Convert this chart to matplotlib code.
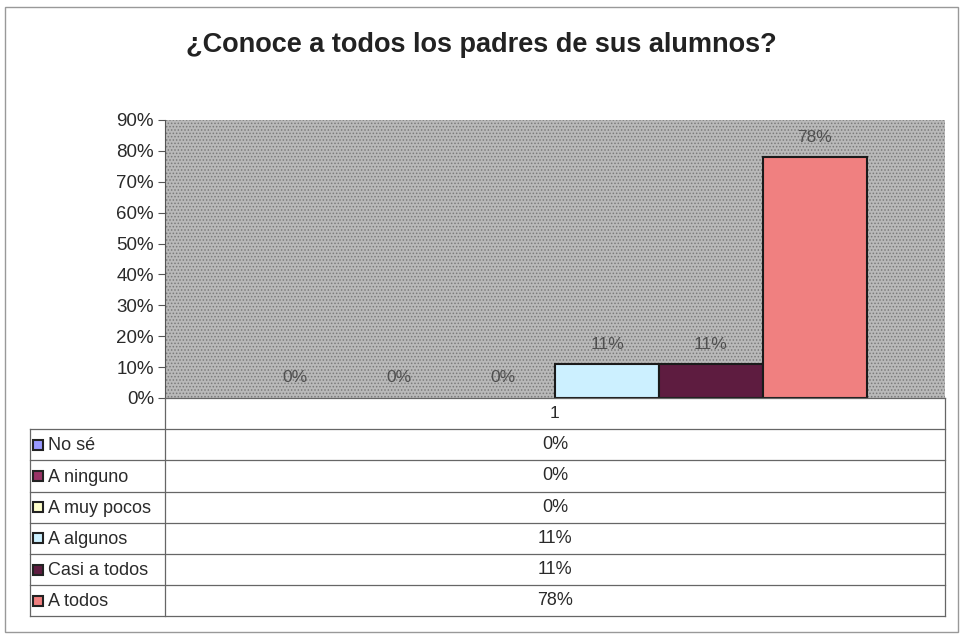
import matplotlib.pyplot as plt
from matplotlib.patches import Rectangle
from matplotlib.lines import Line2D

categories = ['No sé', 'A ninguno', 'A muy pocos', 'A algunos', 'Casi a todos', 'A todos']
values = [0, 0, 0, 11, 11, 78]
colors = ['#9999ff', '#993366', '#ffffcc', '#ccf0ff', '#5e1c40', '#f08080']
yticks = [0, 10, 20, 30, 40, 50, 60, 70, 80, 90]
group_label = '1'

W, H = 962, 636
fig = plt.figure(figsize=(W / 100, H / 100), dpi=100)
plt.rcParams['hatch.linewidth'] = 0.7

def fx(px):
    return px / W

def fy(py):
    return 1 - py / H

# outer frame
fig.add_artist(Rectangle((fx(5), fy(632)), fx(953), fy(7) - fy(632),
                         transform=fig.transFigure, fill=False, ec='#999999', lw=1))

left, right, top, bottom = 165, 945, 120, 398
ax = fig.add_axes([fx(left), fy(bottom), fx(right - left), fy(top) - fy(bottom)])
ax.set_facecolor('#b9b9b9')
ax.add_patch(Rectangle((0, 0), 1, 1, transform=ax.transAxes, fc='none', ec='#7a7a7a',
                       hatch='.....', lw=0, zorder=0))

n = len(values)
w = 0.8 / n
xs = [1 + (i - (n - 1) / 2) * w for i in range(n)]
for x, v, c in zip(xs, values, colors):
    if v > 0:
        ax.bar(x, v, width=w, color=c, edgecolor='#1a1a1a', linewidth=1.5, zorder=3)
    ax.annotate(f'{v}%', (x, v), xytext=(0, 20), textcoords='offset pixels',
                ha='center', va='center', fontsize=12.5, color='#505050', family='Liberation Sans')

ax.set_xlim(0.5, 1.5)
ax.set_ylim(0, 90)
ax.set_yticks(yticks)
ax.set_yticklabels([f'{t}%' for t in yticks], fontsize=13.5, color='#2a2a2a', family='Liberation Sans')
ax.set_xticks([])
ax.tick_params(axis='y', length=5, color='#555555', pad=3)
for s in ['top', 'right', 'bottom']:
    ax.spines[s].set_visible(False)
ax.spines['left'].set_color('#555555')

fig.text(fx(481), fy(45), '¿Conoce a todos los padres de sus alumnos?', ha='center', va='center',
         fontsize=19.5, fontweight='bold', color='#222222', family='Liberation Sans')

# data table below the axis
line_c = '#666666'
row_h = 31.2
tab_top = bottom
tab_left = 30
rows_y = [tab_top + row_h * (k + 1) for k in range(n)]
tab_bot = tab_top + row_h * (n + 1)

def hline(x0, x1, y):
    fig.add_artist(Line2D([fx(x0), fx(x1)], [fy(y), fy(y)], color=line_c, lw=0.9,
                          transform=fig.transFigure))

def vline(x, y0, y1):
    fig.add_artist(Line2D([fx(x), fx(x)], [fy(y0), fy(y1)], color=line_c, lw=0.9,
                          transform=fig.transFigure))

hline(left, right, tab_top)
for y in rows_y:
    hline(tab_left, right, y)
hline(tab_left, right, tab_bot)
vline(tab_left, rows_y[0], tab_bot)
vline(left, tab_top, tab_bot)
vline(right, tab_top, tab_bot)

mid = (left + right) / 2
fig.text(fx(mid), fy(tab_top + row_h / 2), group_label, ha='center', va='center',
         fontsize=12.5, color='#2a2a2a', family='Liberation Sans')
for k, (cat, v, c) in enumerate(zip(categories, values, colors)):
    yc = tab_top + row_h * (k + 1.5)
    fig.add_artist(Rectangle((fx(33), fy(yc + 5)), fx(10), fy(yc - 5) - fy(yc + 5),
                             transform=fig.transFigure, fc=c, ec='#222222', lw=1.5))
    fig.text(fx(48), fy(yc + 1), cat, ha='left', va='center', fontsize=13,
             color='#2a2a2a', family='Liberation Sans')
    fig.text(fx(mid), fy(yc), f'{v}%', ha='center', va='center', fontsize=13,
             color='#2a2a2a', family='Liberation Sans')

fig.savefig('out.png', dpi=100)
